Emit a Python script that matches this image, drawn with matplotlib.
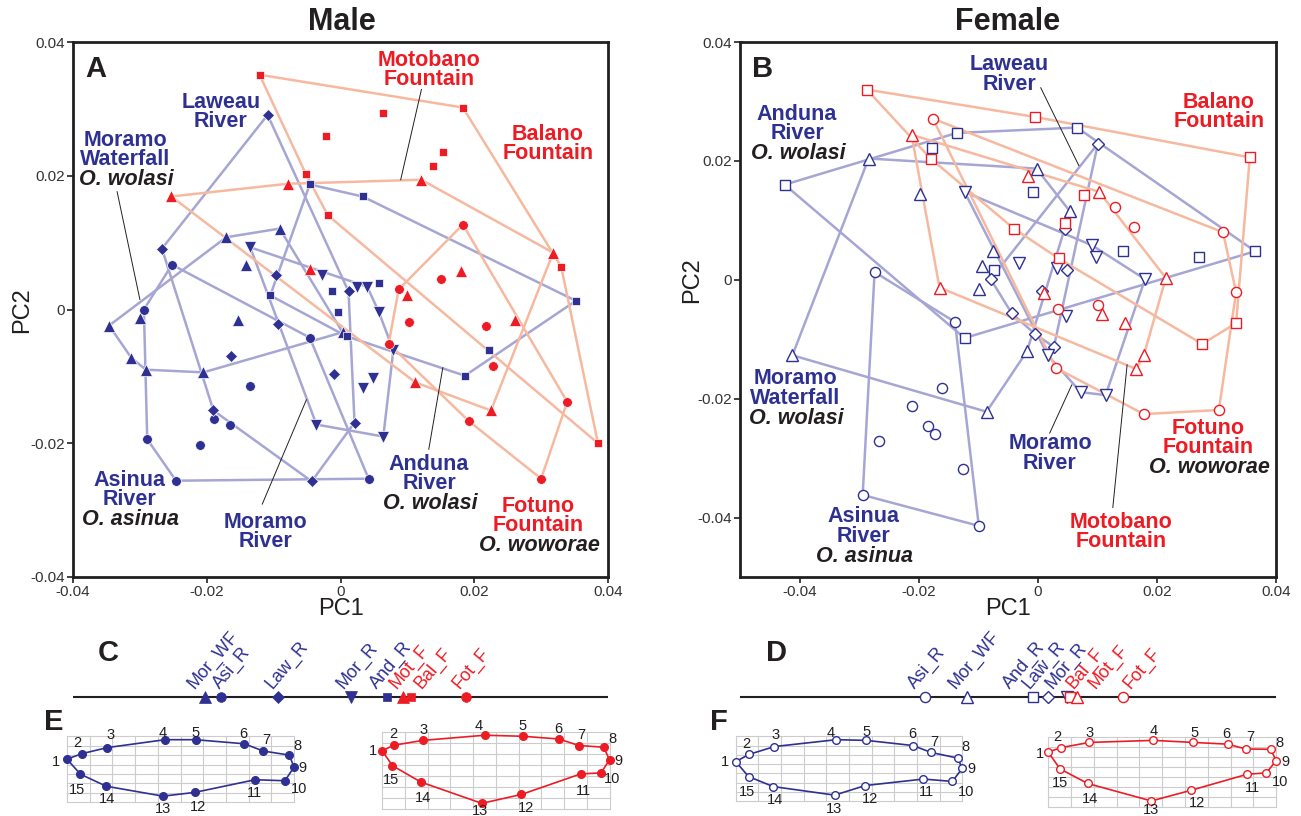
import numpy as np
import matplotlib
matplotlib.use('Agg')
import matplotlib.pyplot as plt

plt.rcParams['font.family'] = ['Liberation Sans', 'DejaVu Sans']

# ---------------- Panel A: male PC scores ----------------
m_morwf_pc1 = [-0.0346, -0.0300, -0.0313, -0.0291, -0.0205, -0.0154, -0.0171, -0.0091, -0.0142, 0.0003]
m_morwf_pc2 = [-0.0024, -0.0013, -0.0072, -0.0090, -0.0094, -0.0016, 0.0108, 0.0121, 0.0066, -0.0034]
m_asir_pc1 = [-0.0294, -0.0252, -0.0046, -0.0136, -0.0189, -0.0165, -0.0210, -0.0289, -0.0246, 0.0042]
m_asir_pc2 = [0.0000, 0.0067, -0.0042, -0.0114, -0.0163, -0.0172, -0.0202, -0.0194, -0.0256, -0.0253]
m_lawr_pc1 = [-0.0109, -0.0267, -0.0096, 0.0012, -0.0093, -0.0163, -0.0190, -0.0043, -0.0010, 0.0021]
m_lawr_pc2 = [0.0291, 0.0091, 0.0051, 0.0027, -0.0021, -0.0069, -0.0151, -0.0257, -0.0096, -0.0169]
m_morr_pc1 = [-0.0135, -0.0027, 0.0024, 0.0040, 0.0057, 0.0079, 0.0034, 0.0048, 0.0064, -0.0036]
m_morr_pc2 = [0.0093, 0.0052, 0.0033, 0.0034, -0.0003, -0.0061, -0.0117, -0.0102, -0.0190, -0.0172]
m_andr_pc1 = [-0.0046, 0.0033, -0.0105, -0.0013, 0.0057, -0.0003, 0.0009, 0.0352, 0.0222, 0.0186]
m_andr_pc2 = [0.0187, 0.0169, 0.0021, 0.0027, 0.0039, -0.0004, -0.0040, 0.0013, -0.0061, -0.0099]
m_motf_pc1 = [-0.0253, -0.0079, 0.0121, 0.0318, 0.0180, 0.0099, -0.0045, 0.0112, 0.0225, 0.0261]
m_motf_pc2 = [0.0169, 0.0188, 0.0194, 0.0085, 0.0058, 0.0021, 0.0061, -0.0109, -0.0151, -0.0016]
m_balf_pc1 = [-0.0121, -0.0022, 0.0063, 0.0183, 0.0154, 0.0139, -0.0052, -0.0019, 0.0330, 0.0385]
m_balf_pc2 = [0.0351, 0.0259, 0.0294, 0.0302, 0.0235, 0.0214, 0.0203, 0.0141, 0.0064, -0.0200]
m_fotf_pc1 = [0.0183, 0.0087, 0.0151, 0.0102, 0.0217, 0.0228, 0.0072, 0.0192, 0.0339, 0.0300]
m_fotf_pc2 = [0.0127, 0.0030, 0.0045, -0.0019, -0.0025, -0.0084, -0.0051, -0.0167, -0.0138, -0.0253]

# ---------------- Panel B: female PC scores ----------------
f_asir_pc1 = [-0.0274, -0.0139, -0.0161, -0.0212, -0.0185, -0.0173, -0.0267, -0.0126, -0.0294, -0.0099]
f_asir_pc2 = [0.0013, -0.0071, -0.0182, -0.0212, -0.0246, -0.0259, -0.0271, -0.0318, -0.0362, -0.0414]
f_morwf_pc1 = [-0.0284, -0.0197, -0.0412, -0.0086, -0.0076, -0.0094, -0.0099, -0.0018, -0.0002, 0.0054]
f_morwf_pc2 = [0.0204, 0.0145, -0.0127, -0.0222, 0.0048, 0.0023, -0.0016, -0.0120, 0.0187, 0.0115]
f_andr_pc1 = [-0.0425, -0.0136, -0.0178, 0.0066, -0.0008, 0.0143, 0.0271, 0.0365, -0.0123, -0.0074]
f_andr_pc2 = [0.0160, 0.0247, 0.0221, 0.0256, 0.0147, 0.0048, 0.0038, 0.0048, -0.0098, 0.0016]
f_lawr_pc1 = [0.0101, 0.0045, 0.0049, 0.0007, -0.0044, -0.0005, 0.0027, -0.0079]
f_lawr_pc2 = [0.0229, 0.0085, 0.0016, -0.0019, -0.0056, -0.0091, -0.0113, 0.0001]
f_morr_pc1 = [-0.0123, 0.0091, 0.0097, -0.0032, 0.0032, 0.0180, 0.0047, 0.0017, 0.0072, 0.0114]
f_morr_pc2 = [0.0148, 0.0058, 0.0038, 0.0028, 0.0019, 0.0001, -0.0061, -0.0127, -0.0189, -0.0194]
f_balf_pc1 = [-0.0287, -0.0005, 0.0356, 0.0333, 0.0276, -0.0180, -0.0040, 0.0077, 0.0045, 0.0035]
f_balf_pc2 = [0.0320, 0.0274, 0.0206, -0.0073, -0.0108, 0.0204, 0.0086, 0.0143, 0.0096, 0.0036]
f_motf_pc1 = [-0.0212, -0.0165, -0.0017, 0.0103, 0.0215, 0.0010, 0.0108, 0.0146, 0.0178, 0.0165]
f_motf_pc2 = [0.0244, -0.0013, 0.0175, 0.0148, 0.0003, -0.0023, -0.0058, -0.0073, -0.0127, -0.0150]
f_fotf_pc1 = [-0.0176, 0.0129, 0.0161, 0.0311, 0.0333, 0.0034, 0.0101, 0.0030, 0.0178, 0.0304]
f_fotf_pc2 = [0.0271, 0.0123, 0.0088, 0.0080, -0.0021, -0.0049, -0.0043, -0.0148, -0.0226, -0.0219]

# ---------------- Panels C / D: group means on PC1 ----------------
c_names = ['Mor_WF', 'Asi_R', 'Law_R', 'Mor_R', 'And_R', 'Mot_F', 'Bal_F', 'Fot_F']
c_means = [-0.0202, -0.0178, -0.0093, 0.0016, 0.0069, 0.0094, 0.0105, 0.0187]
c_label_x = [-0.0219, -0.0181, -0.0102, 0.0004, 0.0054, 0.0083, 0.0121, 0.0178]
d_names = ['Asi_R', 'Mor_WF', 'And_R', 'Law_R', 'Mor_R', 'Bal_F', 'Mot_F', 'Fot_F']
d_means = [-0.0190, -0.0119, -0.0008, 0.0017, 0.0049, 0.0054, 0.0066, 0.0143]
d_label_x = [-0.0207, -0.0138, -0.0047, -0.0015, 0.0024, 0.0059, 0.0097, 0.0156]

# ---------------- Panels E / F: landmark configurations ----------------
lm_numbers = list(range(1, 16))
e_blue_x = [68, 105, 170, 315, 392, 515, 562, 628, 640, 617, 542, 390, 310, 167, 102]
e_blue_y = [173, 157, 139, 116, 116, 128, 149, 161, 196, 236, 233, 270, 281, 252, 217]
e_blue_lx = [40, 95, 177, 310, 393, 513, 570, 648, 660, 652, 540, 397, 310, 168, 93]
e_blue_ly = [180, 127, 103, 95, 95, 98, 118, 135, 200, 260, 272, 313, 320, 290, 262]
e_red_x = [862, 892, 965, 1120, 1217, 1307, 1358, 1420, 1435, 1413, 1362, 1213, 1113, 960, 888]
e_red_y = [148, 132, 118, 103, 106, 114, 133, 138, 175, 213, 216, 276, 302, 240, 192]
e_red_lx = [838, 890, 967, 1105, 1215, 1305, 1365, 1442, 1458, 1440, 1368, 1225, 1108, 965, 885]
e_red_ly = [150, 98, 88, 75, 75, 85, 103, 113, 178, 232, 265, 315, 324, 287, 235]
f_blue_x = [117, 151, 216, 374, 451, 570, 616, 685, 696, 671, 597, 448, 370, 213, 150]
f_blue_y = [180, 159, 136, 116, 118, 133, 153, 170, 200, 238, 231, 250, 278, 253, 224]
f_blue_lx = [90, 143, 220, 360, 452, 568, 625, 705, 720, 705, 605, 460, 368, 217, 145]
f_blue_ly = [182, 128, 103, 95, 93, 100, 123, 138, 202, 268, 268, 290, 318, 293, 268]
f_red_x = [916, 950, 1021, 1185, 1287, 1375, 1421, 1485, 1499, 1474, 1425, 1281, 1180, 1017, 946]
f_red_y = [152, 139, 124, 118, 124, 129, 143, 144, 177, 213, 217, 264, 295, 244, 201]
f_red_lx = [895, 940, 1022, 1185, 1290, 1372, 1432, 1507, 1522, 1508, 1438, 1297, 1180, 1022, 945]
f_red_ly = [157, 108, 95, 90, 95, 100, 108, 125, 180, 240, 258, 302, 322, 288, 243]

# ---------------- styles ----------------
W, H = 1301, 816
BLUE = '#2e3192'
RED = '#ed1c24'
BLUE_HULL = '#a6a6d4'
RED_HULL = '#f6b9a0'
INK = '#231f20'

fig = plt.figure(figsize=(W / 100, H / 100), dpi=100)


def fax(left, top, right, bottom):
    return fig.add_axes([left / W, 1 - bottom / H, (right - left) / W, (bottom - top) / H])


def ftext(px, py, s, **kw):
    fig.text(px / W, 1 - py / H, s, **kw)


def hull(xs, ys):
    pts = sorted(set(zip(xs, ys)))
    def cross(o, a, b):
        return (a[0] - o[0]) * (b[1] - o[1]) - (a[1] - o[1]) * (b[0] - o[0])
    lower = []
    for p in pts:
        while len(lower) >= 2 and cross(lower[-2], lower[-1], p) <= 0:
            lower.pop()
        lower.append(p)
    upper = []
    for p in reversed(pts):
        while len(upper) >= 2 and cross(upper[-2], upper[-1], p) <= 0:
            upper.pop()
        upper.append(p)
    h = lower[:-1] + upper[:-1]
    h.append(h[0])
    return [p[0] for p in h], [p[1] for p in h]


msize = {'^': 8.0, 'v': 8.0, 'o': 7.0, 's': 6.2, 'D': 6.0}


def draw_scatter(ax, groups, filled):
    for xs, ys, mk, col, hc in groups:
        hx, hy = hull(xs, ys)
        ax.plot(hx, hy, color=hc, lw=1.8, zorder=1, solid_joinstyle='round')
    for xs, ys, mk, col, hc in groups:
        if filled:
            ax.plot(xs, ys, ls='none', marker=mk, ms=msize[mk], mfc=col, mec='white',
                    mew=0.5, zorder=3)
        else:
            ax.plot(xs, ys, ls='none', marker=mk, ms=msize[mk] + 0.3, mfc='white', mec=col,
                    mew=1.0, zorder=3)


def style_axes(ax, xlim, ylim, xticks, yticks):
    ax.set_xlim(*xlim)
    ax.set_ylim(*ylim)
    ax.set_xticks(xticks)
    ax.set_yticks(yticks)
    fmt = lambda v: '0' if abs(v) < 1e-9 else ('%.2f' % v)
    ax.set_xticklabels([fmt(v) for v in xticks])
    ax.set_yticklabels([fmt(v) for v in yticks])
    for s in ax.spines.values():
        s.set_linewidth(2.0)
        s.set_color(INK)
    ax.tick_params(direction='out', length=4, width=1.2, colors=INK, labelsize=11,
                   labelcolor='#333333', pad=2)


# ---------------- Panel A ----------------
axA = fax(73, 42, 608, 577)
groupsA = [
    (m_morwf_pc1, m_morwf_pc2, '^', BLUE, BLUE_HULL),
    (m_asir_pc1, m_asir_pc2, 'o', BLUE, BLUE_HULL),
    (m_lawr_pc1, m_lawr_pc2, 'D', BLUE, BLUE_HULL),
    (m_morr_pc1, m_morr_pc2, 'v', BLUE, BLUE_HULL),
    (m_andr_pc1, m_andr_pc2, 's', BLUE, BLUE_HULL),
    (m_motf_pc1, m_motf_pc2, '^', RED, RED_HULL),
    (m_balf_pc1, m_balf_pc2, 's', RED, RED_HULL),
    (m_fotf_pc1, m_fotf_pc2, 'o', RED, RED_HULL),
]
draw_scatter(axA, groupsA, True)
ticksA = [-0.04, -0.02, 0.0, 0.02, 0.04]
style_axes(axA, (-0.04, 0.04), (-0.04, 0.04), ticksA, ticksA)
leadersA = [((-0.0334, 0.0176), (-0.0300, 0.0015)),
            ((0.0121, 0.0329), (0.0090, 0.0194)),
            ((-0.0117, -0.0291), (-0.0051, -0.0135)),
            ((0.0132, -0.0209), (0.0153, -0.0087))]
for (x1, y1), (x2, y2) in leadersA:
    axA.plot([x1, x2], [y1, y2], color=INK, lw=0.7, zorder=2)

# ---------------- Panel B ----------------
axB = fax(740, 42, 1276, 577)
groupsB = [
    (f_asir_pc1, f_asir_pc2, 'o', BLUE, BLUE_HULL),
    (f_morwf_pc1, f_morwf_pc2, '^', BLUE, BLUE_HULL),
    (f_andr_pc1, f_andr_pc2, 's', BLUE, BLUE_HULL),
    (f_lawr_pc1, f_lawr_pc2, 'D', BLUE, BLUE_HULL),
    (f_morr_pc1, f_morr_pc2, 'v', BLUE, BLUE_HULL),
    (f_balf_pc1, f_balf_pc2, 's', RED, RED_HULL),
    (f_motf_pc1, f_motf_pc2, '^', RED, RED_HULL),
    (f_fotf_pc1, f_fotf_pc2, 'o', RED, RED_HULL),
]
draw_scatter(axB, groupsB, False)
ticksB = [-0.04, -0.02, 0.0, 0.02, 0.04]
style_axes(axB, (-0.05, 0.04), (-0.05, 0.04), ticksB, ticksB)
leadersB = [((0.0005, 0.0323), (0.0069, 0.0192)),
            ((0.0020, -0.0258), (0.0057, -0.0177)),
            ((0.0126, -0.0383), (0.0150, -0.0143))]
for (x1, y1), (x2, y2) in leadersB:
    axB.plot([x1, x2], [y1, y2], color=INK, lw=0.7, zorder=2)

# ---------------- titles / axis labels ----------------
ftext(342, 22, 'Male', ha='center', va='center', fontsize=22, fontweight='bold', color=INK)
ftext(1008, 22, 'Female', ha='center', va='center', fontsize=22, fontweight='bold', color=INK)
ftext(341, 609, 'PC1', ha='center', va='center', fontsize=17, color=INK)
ftext(1008, 609, 'PC1', ha='center', va='center', fontsize=17, color=INK)
ftext(22, 310, 'PC2', ha='center', va='center', fontsize=17, color=INK, rotation=90)
ftext(692, 280, 'PC2', ha='center', va='center', fontsize=17, color=INK, rotation=90)

for letter, px, py in [('A', 96, 69), ('B', 763, 69), ('C', 108, 653), ('D', 777, 653),
                       ('E', 54, 722), ('F', 719, 722)]:
    ftext(px, py, letter, ha='center', va='center', fontsize=21, fontweight='bold', color=INK)

# group labels
LAB = 15.5
STEP = 19.8
labels = [
    (221, 102, ['Laweau', 'River'], BLUE, None),
    (125, 140, ['Moramo', 'Waterfall'], BLUE, 'O. wolasi'),
    (429, 60, ['Motobano', 'Fountain'], RED, None),
    (548, 134, ['Balano', 'Fountain'], RED, None),
    (129, 480, ['Asinua', 'River'], BLUE, 'O. asinua'),
    (265, 522, ['Moramo', 'River'], BLUE, None),
    (429, 464, ['Anduna', 'River'], BLUE, 'O. wolasi'),
    (538, 506, ['Fotuno', 'Fountain'], RED, 'O. woworae'),
    (1009, 65, ['Laweau', 'River'], BLUE, None),
    (797, 114, ['Anduna', 'River'], BLUE, 'O. wolasi'),
    (1219, 102, ['Balano', 'Fountain'], RED, None),
    (795, 379, ['Moramo', 'Waterfall'], BLUE, 'O. wolasi'),
    (863, 517, ['Asinua', 'River'], BLUE, 'O. asinua'),
    (1050, 444, ['Moramo', 'River'], BLUE, None),
    (1208, 428, ['Fotuno', 'Fountain'], RED, 'O. woworae'),
    (1121, 522, ['Motobano', 'Fountain'], RED, None),
]
for x, y, lines, col, sp in labels:
    for i, s in enumerate(lines):
        ftext(x, y + i * STEP, s, ha='center', va='center', fontsize=LAB,
              fontweight='bold', color=col)
    if sp:
        ftext(x + 1, y + len(lines) * STEP, sp, ha='center', va='center', fontsize=LAB,
              fontweight='bold', style='italic', color=INK)

# ---------------- Panels C / D ----------------
def mean_line(left, right, xlim, names, means, lab_x, filled):
    ax = fax(left, 637, right, 717)
    ax.set_xlim(*xlim)
    ax.set_ylim(-0.25, 0.75)
    ax.axis('off')
    ax.axhline(0, color=INK, lw=1.5, zorder=1)
    mk = {'Mor_WF': '^', 'Asi_R': 'o', 'Law_R': 'D', 'Mor_R': 'v', 'And_R': 's',
          'Mot_F': '^', 'Bal_F': 's', 'Fot_F': 'o'}
    for n, m, lx in zip(names, means, lab_x):
        col = RED if n.endswith('_F') else BLUE
        if filled:
            ax.plot([m], [0], marker=mk[n], ms=msize[mk[n]], mfc=col, mec=col, mew=0.5,
                    zorder=3, clip_on=False)
        else:
            ax.plot([m], [0], marker=mk[n], ms=msize[mk[n]] + 0.3, mfc='white', mec=col,
                    mew=1.0, zorder=3, clip_on=False)
        ax.text(lx, 0.1, n, rotation=50, rotation_mode='anchor', ha='left', va='baseline',
                fontsize=13, color=col, clip_on=False)


mean_line(73, 608, (-0.04, 0.04), c_names, c_means, c_label_x, True)
mean_line(740, 1276, (-0.05, 0.04), d_names, d_means, d_label_x, False)

# ---------------- Panels E / F ----------------
def shape_panel(left, right, width_units, shapes, filled):
    ax = fax(left, 700, right, 816)
    ax.set_xlim(0, width_units)
    ax.set_ylim(339, 0)
    ax.axis('off')
    for xs, ys, lxs, lys, col in shapes:
        x0, x1 = min(xs), max(xs)
        y0, y1 = min(ys) - 10, max(ys) + 18
        for gx in np.linspace(x0, x1, 11):
            ax.plot([gx, gx], [y0, y1], color='#cccccc', lw=0.8, zorder=1)
        for gy in np.linspace(y0, y1, 8):
            ax.plot([x0, x1], [gy, gy], color='#cccccc', lw=0.8, zorder=1)
        ax.plot(list(xs) + [xs[0]], list(ys) + [ys[0]], color=col, lw=1.2, zorder=2)
        if filled:
            ax.plot(xs, ys, ls='none', marker='o', ms=5.5, mfc=col, mec=col, zorder=3)
        else:
            ax.plot(xs, ys, ls='none', marker='o', ms=5.5, mfc='white', mec=col, mew=1.0,
                    zorder=3)
        for n, lx, ly in zip(lm_numbers, lxs, lys):
            ax.text(lx, ly, str(n), ha='center', va='center', fontsize=10.5, color=INK,
                    clip_on=False)


shape_panel(40, 660, 1562, [(e_blue_x, e_blue_y, e_blue_lx, e_blue_ly, BLUE),
                            (e_red_x, e_red_y, e_red_lx, e_red_ly, RED)], True)
shape_panel(690, 1300, 1560, [(f_blue_x, f_blue_y, f_blue_lx, f_blue_ly, BLUE),
                              (f_red_x, f_red_y, f_red_lx, f_red_ly, RED)], False)

fig.savefig('out.png', dpi=100)
